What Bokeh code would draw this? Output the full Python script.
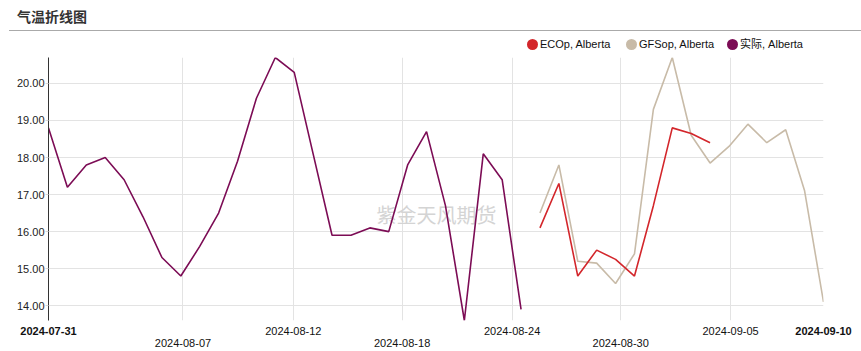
import pandas as pd
from bokeh.plotting import figure
from bokeh.layouts import column
from bokeh.models import Range1d, FixedTicker, Label, ColumnDataSource, Div, DatetimeAxis
from bokeh.embed import file_html
from bokeh.resources import INLINE

# ---------------- data ----------------
title_text = "气温折线图"
watermark_text = "紫金天风期货"

actual_name = "实际, Alberta"
actual_start = "2024-07-31"
actual_values = [18.8, 17.2, 17.8, 18.0, 17.4, 16.4, 15.3, 14.8, 15.6, 16.5,
                 17.9, 19.6, 20.7, 20.3, 18.1, 15.9, 15.9, 16.1, 16.0, 17.8,
                 18.7, 16.7, 13.6, 18.1, 17.4, 13.9]

ec_name = "ECOp, Alberta"
ec_start = "2024-08-26"
ec_values = [16.1, 17.3, 14.8, 15.5, 15.25, 14.8, 16.7, 18.8, 18.65, 18.4]

gfs_name = "GFSop, Alberta"
gfs_start = "2024-08-26"
gfs_values = [16.5, 17.8, 15.2, 15.15, 14.6, 15.4, 19.3, 20.7, 18.6, 17.85,
              18.3, 18.9, 18.4, 18.75, 17.1, 14.1]

x_start = "2024-07-31"
x_end = "2024-09-10"
y_min, y_max = 13.6, 20.7
y_ticks = [14, 15, 16, 17, 18, 19, 20]

tick_labels = ["2024-07-31", "2024-08-07", "2024-08-12", "2024-08-18",
               "2024-08-24", "2024-08-30", "2024-09-05", "2024-09-10"]
tick_times = ["2024-07-31 00:00", "2024-08-07 02:45", "2024-08-12 22:50",
              "2024-08-18 17:00", "2024-08-24 12:40", "2024-08-30 06:30",
              "2024-09-05 02:00", "2024-09-10 00:00"]
tick_rows = [0, 1, 0, 1, 0, 1, 0, 0]

# colours
c_ec = "#d3262b"
c_gfs = "#c8bba8"
c_act = "#7c0c55"

W, H = 861, 351
HEAD = 57
FONT = "Liberation Sans"

def to_ms(s):
    return pd.Timestamp(s).value / 1e6

# ---------------- header (title, rule, legend) ----------------
legend_items = [(ec_name, c_ec, 527), (gfs_name, c_gfs, 626), (actual_name, c_act, 727)]
leg_html = "".join(
    f'<div style="position:absolute;left:{x}px;top:38px;height:12px;display:flex;align-items:center;'
    f'white-space:nowrap;">'
    f'<span style="display:inline-block;width:11px;height:11px;border-radius:50%;background:{c};"></span>'
    f'<span style="margin-left:2px;font:11px \'{FONT}\',\'Noto Sans CJK SC\';color:#111;line-height:12px;">{name}</span>'
    f'</div>'
    for name, c, x in legend_items)
header_html = (
    f'<div style="position:relative;width:{W}px;height:{HEAD}px;background:white;">'
    f'<div style="position:absolute;left:17px;top:8px;font-weight:bold;font-size:14px;line-height:16px;'
    f'font-family:\'Noto Sans CJK SC\';color:#333;white-space:nowrap;">{title_text}</div>'
    f'<div style="position:absolute;left:9px;width:{W - 9}px;top:30px;height:0;border-top:1px solid #aaaaaa;"></div>'
    f'{leg_html}</div>'
)
header = Div(text=header_html, width=W, height=HEAD, margin=0)

# ---------------- chart ----------------
p = figure(width=W, height=H - HEAD, x_axis_type="datetime",
           x_range=Range1d(to_ms(x_start), to_ms(x_end)),
           y_range=Range1d(y_min, y_max),
           output_backend="svg", toolbar_location=None,
           min_border_left=48, min_border_right=38,
           min_border_top=0, min_border_bottom=31, margin=0)
p.outline_line_color = None
p.background_fill_color = "white"
p.border_fill_color = "white"

all_ticks = [to_ms(t) for t in tick_times]
inner = [(t, lab, row) for t, lab, row in zip(all_ticks, tick_labels, tick_rows)][1:-1]
ends = [(all_ticks[0], tick_labels[0]), (all_ticks[-1], tick_labels[-1])]

def style_xaxis(ax, standoff, bold):
    ax.axis_line_color = None
    ax.major_tick_line_color = None
    ax.minor_tick_line_color = None
    ax.major_tick_in = 0
    ax.major_tick_out = 0
    ax.major_label_standoff = standoff
    ax.major_label_text_font = FONT
    ax.major_label_text_font_size = "11px"
    ax.major_label_text_line_height = 1.0
    ax.major_label_text_color = "#111111"
    ax.major_label_text_font_style = "bold" if bold else "normal"

# main x axis: staggered normal labels
xa = p.xaxis[0]
xa.ticker = FixedTicker(ticks=[t for t, _, _ in inner])
xa.major_label_overrides = {t: (lab if row == 0 else "\n" + lab) for t, lab, row in inner}
style_xaxis(xa, 4, False)

# second x axis: bold labels at both ends, pulled up onto the first row
xb = DatetimeAxis(ticker=FixedTicker(ticks=[t for t, _ in ends]),
                  major_label_overrides={t: lab for t, lab in ends})
style_xaxis(xb, -25, True)
p.add_layout(xb, "below")

p.xgrid.ticker = FixedTicker(ticks=all_ticks[1:-1])
p.xgrid.grid_line_color = "#e3e3e3"
p.ygrid.grid_line_color = "#e3e3e3"

ya = p.yaxis[0]
ya.ticker = FixedTicker(ticks=y_ticks)
ya.major_label_overrides = {t: f"{t:.2f}" for t in y_ticks}
ya.axis_line_color = "#333333"
ya.major_tick_line_color = "#d8d8d8"
ya.major_tick_in = 0
ya.major_tick_out = 3
ya.minor_tick_line_color = None
ya.major_label_standoff = 1
ya.major_label_text_font = FONT
ya.major_label_text_font_size = "11px"
ya.major_label_text_color = "#222222"

# watermark (beneath lines)
p.add_layout(Label(x=436, y=214 - HEAD, x_units="canvas", y_units="canvas",
                   text=watermark_text, text_align="center", text_baseline="middle",
                   text_font="Noto Sans CJK SC", text_font_size="20px",
                   text_color="#d4d4d4", level="underlay"))

def series(start, vals):
    return ColumnDataSource(dict(x=pd.date_range(start, periods=len(vals), freq="D"), y=vals))

p.line("x", "y", source=series(actual_start, actual_values), line_color=c_act, line_width=1.6)
p.line("x", "y", source=series(gfs_start, gfs_values), line_color=c_gfs, line_width=1.6)
p.line("x", "y", source=series(ec_start, ec_values), line_color=c_ec, line_width=1.6)

layout = column(header, p, spacing=0, margin=0)
open("out.html", "w").write(file_html(layout, INLINE))
